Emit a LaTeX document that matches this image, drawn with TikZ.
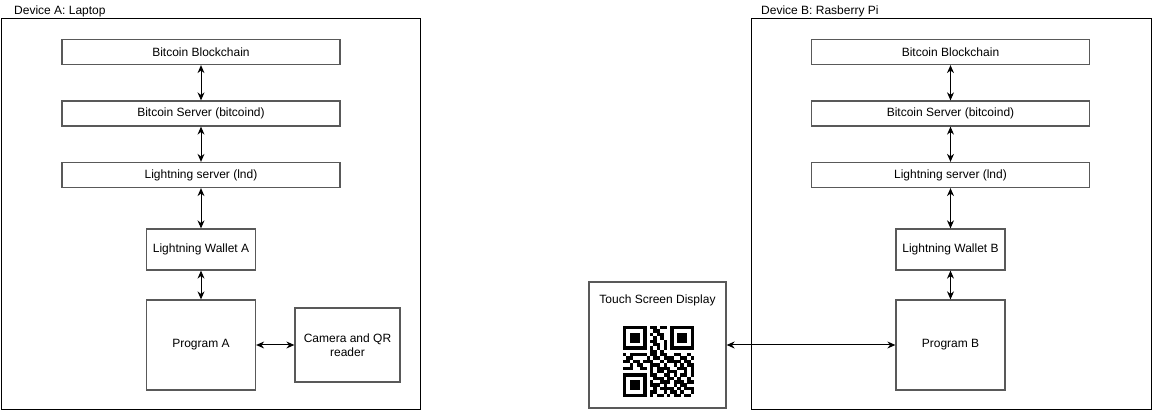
\documentclass[tikz,border=0pt]{standalone}
\usepackage{fontspec}
\setmainfont{Liberation Sans}
\usetikzlibrary{arrows.meta}
\begin{document}
\begin{tikzpicture}[x=1pt,y=-1pt,font=\fontsize{12}{14}\selectfont,
	device/.style={draw=black,line width=1pt,inner sep=0pt},
	block/.style={draw=black!65,line width=1.3pt,fill=white,inner sep=0pt,align=center},
	link/.style={{Stealth[length=8pt,width=7pt]}-{Stealth[length=8pt,width=7pt]},line width=1pt}]
\useasboundingbox (0,0) rectangle (1152,411);
% the two devices
\node[device,minimum width=419pt,minimum height=391pt] (devA) at (210.5,214.5) {};
\node[device,minimum width=400pt,minimum height=391pt] (devB) at (951,214.5) {};
\node[anchor=west,inner sep=0pt] (titleA) at (14,11) {Device A: Laptop};
\node[anchor=west,inner sep=0pt] (titleB) at (761,11) {Device B: Rasberry Pi};
% the same stack on each device
\foreach \d/\cx in {A/201,B/950.5} {
	\node[block,minimum width=278pt,minimum height=25pt] (chain\d) at (\cx,52) {Bitcoin Blockchain};
	\node[block,minimum width=278pt,minimum height=25pt] (server\d) at (\cx,113.5) {Bitcoin Server (bitcoind)};
	\node[block,minimum width=278pt,minimum height=25pt] (lnd\d) at (\cx,175) {Lightning server (lnd)};
	\node[block,minimum width=109pt,minimum height=41pt] (wallet\d) at (\cx,249.5) {Lightning Wallet \d};
	\node[block,minimum width=109pt,minimum height=90pt] (prog\d) at (\cx,345) {Program \d};
}
\node[block,minimum width=105pt,minimum height=74pt] (cam) at (347.5,345) {Camera and QR\\reader};
\node[block,minimum width=137pt,minimum height=126pt,
	label={[anchor=north,yshift=-10pt]north:Touch Screen Display}] (touch) at (657.5,345) {};
% qr code, 21 x 21 modules
\foreach \bits [count=\r from 0] in {
	{1,1,1,1,1,1,1,0,1,1,0,1,1,0,1,1,1,1,1,1,1},
	{1,0,0,0,0,0,1,0,0,1,1,0,0,0,1,0,0,0,0,0,1},
	{1,0,1,1,1,0,1,0,1,0,1,1,0,0,1,0,1,1,1,0,1},
	{1,0,1,1,1,0,1,0,0,1,0,1,0,0,1,0,1,1,1,0,1},
	{1,0,1,1,1,0,1,0,1,1,0,0,1,0,1,0,1,1,1,0,1},
	{1,0,0,0,0,0,1,0,0,1,1,0,1,0,1,0,0,0,0,0,1},
	{1,1,1,1,1,1,1,0,1,0,1,0,1,0,1,1,1,1,1,1,1},
	{0,0,0,0,0,0,0,0,1,1,0,1,0,0,0,0,0,0,0,0,0},
	{1,0,1,1,1,1,1,0,1,1,0,1,1,0,0,1,1,0,0,1,0},
	{0,1,1,0,0,0,0,1,0,1,1,0,1,1,1,0,0,1,1,0,1},
	{1,1,0,1,1,0,1,1,1,0,0,1,0,1,1,1,1,0,1,1,0},
	{0,0,1,0,1,1,0,0,1,1,1,0,1,0,0,1,0,1,0,1,1},
	{1,1,1,0,0,1,1,0,1,0,1,1,1,1,0,0,1,1,1,0,1},
	{0,0,0,0,0,0,0,0,1,0,1,1,0,1,1,1,0,0,1,0,1},
	{1,1,1,1,1,1,1,0,1,1,0,0,1,1,0,1,0,1,1,0,1},
	{1,0,0,0,0,0,1,0,0,1,1,1,0,1,1,0,1,0,0,1,0},
	{1,0,1,1,1,0,1,0,1,0,0,1,1,1,0,1,1,1,0,1,1},
	{1,0,1,1,1,0,1,0,1,1,1,0,1,0,0,1,0,1,1,0,0},
	{1,0,1,1,1,0,1,0,0,1,0,1,1,1,1,0,1,0,1,1,1},
	{1,0,0,0,0,0,1,0,1,1,0,0,1,0,1,1,0,1,0,0,1},
	{1,1,1,1,1,1,1,0,1,0,1,1,0,1,0,1,1,0,1,1,0}}
	\foreach \b [count=\c from 0] in \bits {
		\ifnum\b=1 \fill (623+3.38*\c,326+3.38*\r) rectangle +(3.45,3.45); \fi
	}
% connectors
\foreach \d in {A,B}
	\foreach \u/\v in {chain/server,server/lnd,lnd/wallet,wallet/prog}
		\draw[link] (\u\d.south) -- (\v\d.north);
\draw[link] (progA.east) -- (cam.west);
\draw[link] (touch.east) -- (progB.west);
\end{tikzpicture}
\end{document}
